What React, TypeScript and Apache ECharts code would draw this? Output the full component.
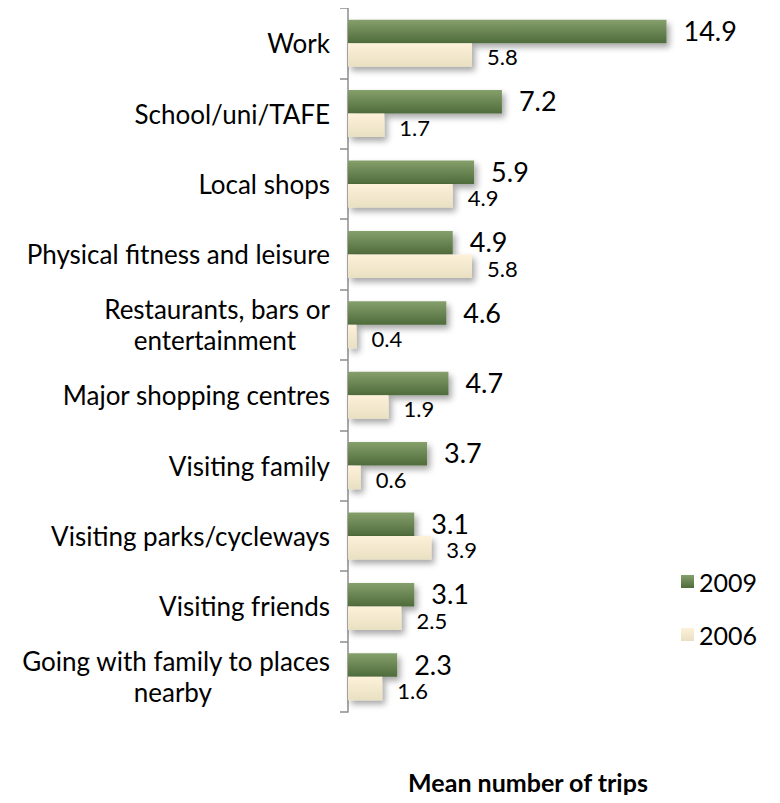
import React, { useEffect, useRef } from "react";
import * as echarts from "echarts";

const categories = [
  "Work",
  "School/uni/TAFE",
  "Local shops",
  "Physical fitness and leisure",
  "Restaurants, bars or\nentertainment",
  "Major shopping centres",
  "Visiting family",
  "Visiting parks/cycleways",
  "Visiting friends",
  "Going with family to places\nnearby",
];
const values2009 = [14.9, 7.2, 5.9, 4.9, 4.6, 4.7, 3.7, 3.1, 3.1, 2.3];
const values2006 = [5.8, 1.7, 4.9, 5.8, 0.4, 1.9, 0.6, 3.9, 2.5, 1.6];
const seriesNames = ["2009", "2006"];

const FONT = "Lato, 'Liberation Sans', Arial, sans-serif";
const CAT_SIZE = 26;

export default function App() {
  const ref = useRef<HTMLDivElement>(null);
  useEffect(() => {
    if (!ref.current) return;
    const chart = echarts.init(ref.current, undefined, { renderer: "svg" });
    const shadow = {
      shadowColor: "rgba(0,0,0,0.35)",
      shadowBlur: 6,
      shadowOffsetX: 3,
      shadowOffsetY: 4,
    };
    const catStyle = { fontFamily: FONT, fontSize: CAT_SIZE, color: "#000", lineHeight: 31 };
    chart.setOption({
      animation: false,
      backgroundColor: "#ffffff",
      textStyle: { fontFamily: FONT },
      title: {
        text: "Mean number of trips",
        left: 523,
        textAlign: "center",
        top: 764,
        textStyle: { fontFamily: FONT, fontSize: 25, fontWeight: "bold", color: "#000" },
      },
      legend: {
        orient: "vertical",
        left: 676,
        top: 564,
        itemWidth: 13,
        itemHeight: 13,
        itemGap: 28,
        icon: "rect",
        data: seriesNames,
        textStyle: { fontFamily: FONT, fontSize: 25, color: "#000" },
      },
      grid: { left: 348, top: 8, width: 342, height: 704, containLabel: false },
      xAxis: {
        type: "value",
        min: 0,
        max: 16,
        show: false,
      },
      yAxis: {
        type: "category",
        inverse: true,
        data: categories,
        axisLine: { show: true, lineStyle: { color: "#8c8c8c", width: 1.5 } },
        axisTick: { show: true, length: 8, lineStyle: { color: "#8c8c8c", width: 1.5 } },
        axisLabel: {
          margin: 18,
          ...catStyle,
          formatter: (v: string) => {
            if (v.startsWith("Restaurants")) return "{a|Restaurants, bars or}\n{b|entertainment}";
            if (v.startsWith("Going")) return "{a|Going with family to places}\n{c|nearby}";
            return v;
          },
          rich: {
            a: { ...catStyle },
            b: { ...catStyle, padding: [0, 34, 0, 0] },
            c: { ...catStyle, padding: [0, 118, 0, 0] },
          },
        },
        splitLine: { show: false },
      },
      series: [
        {
          name: seriesNames[0],
          type: "bar",
          data: values2009,
          barWidth: 23.5,
          barGap: "0%",
          itemStyle: {
            color: new echarts.graphic.LinearGradient(0, 0, 0, 1, [
              { offset: 0, color: "#85a06b" },
              { offset: 1, color: "#4f6b3b" },
            ]),
            ...shadow,
          },
          label: {
            show: true,
            position: "right",
            distance: 17,
            offset: [0, -1],
            fontFamily: FONT,
            fontSize: 27,
            color: "#000",
          },
        },
        {
          name: seriesNames[1],
          type: "bar",
          data: values2006,
          barWidth: 23.5,
          itemStyle: {
            color: new echarts.graphic.LinearGradient(0, 0, 0, 1, [
              { offset: 0, color: "#fdf1d9" },
              { offset: 1, color: "#e9e0c2" },
            ]),
            ...shadow,
          },
          label: {
            show: true,
            position: "right",
            distance: 15,
            offset: [0, 2],
            fontFamily: FONT,
            fontSize: 22,
            color: "#000",
          },
        },
      ],
    });
    return () => chart.dispose();
  }, []);
  return <div ref={ref} style={{ width: 780, height: 803, margin: -8 }} />;
}
